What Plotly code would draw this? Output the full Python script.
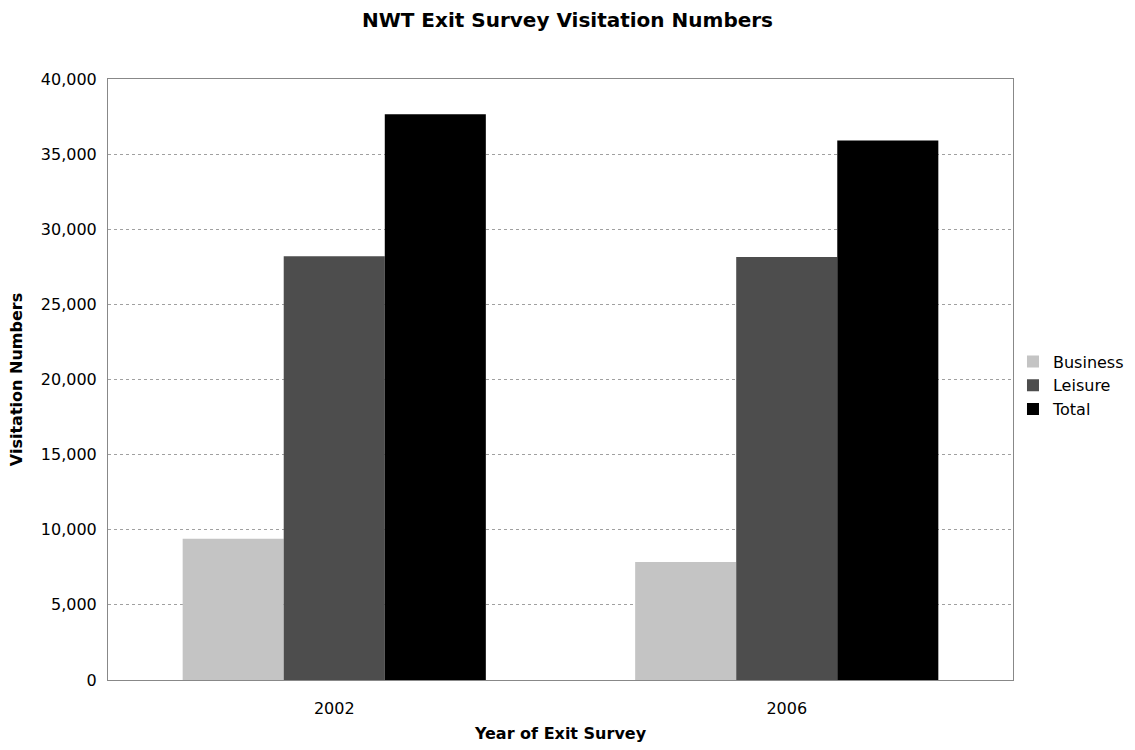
import plotly.graph_objs as go

# data
years = ['2002', '2006']
business = [9400, 7850]
leisure = [28200, 28150]
total = [37650, 35900]

series_names = ['Business', 'Leisure', 'Total']
series_colors = ['#c4c4c4', '#4d4d4d', '#000000']

FONT = 'DejaVu Sans'

fig = go.Figure()
for name, vals, col in zip(series_names, [business, leisure, total], series_colors):
    fig.add_trace(go.Bar(
        x=years,
        y=vals,
        name=name,
        marker=dict(color=col, line=dict(width=0)),
    ))

fig.update_layout(
    title=dict(
        text='<b>NWT Exit Survey Visitation Numbers</b>',
        x=0.5,
        xanchor='center',
        y=0.973,
        yanchor='middle',
        font=dict(family=FONT, size=20, color='black'),
    ),
    font=dict(family=FONT, size=16, color='black'),
    width=1135,
    height=750,
    margin=dict(l=108, r=122, t=79, b=70),
    paper_bgcolor='white',
    plot_bgcolor='white',
    barmode='group',
    bargap=0.33,
    bargroupgap=0,
    legend=dict(
        xref='container',
        x=0.8925,
        xanchor='left',
        y=0.49,
        yanchor='middle',
        bgcolor='rgba(0,0,0,0)',
        font=dict(family=FONT, size=16),
        itemwidth=30,
        tracegroupgap=0,
    ),
    xaxis=dict(
        title=dict(text='<b>Year of Exit Survey</b>',
                   font=dict(family=FONT, size=16), standoff=10),
        automargin=False,
        showline=True,
        linecolor='#888888',
        linewidth=1,
        mirror=True,
        ticks='',
        ticklabelstandoff=14,
        showgrid=False,
        tickfont=dict(size=16),
    ),
    yaxis=dict(
        title=dict(text='<b>Visitation Numbers</b>',
                   font=dict(family=FONT, size=16), standoff=14),
        automargin=False,
        range=[0, 40000],
        dtick=5000,
        tickformat=',',
        showline=True,
        linecolor='#888888',
        linewidth=1,
        mirror=True,
        ticks='',
        ticklabelstandoff=7,
        showgrid=True,
        gridcolor='#a0a0a0',
        griddash='dot',
        gridwidth=1,
        zeroline=False,
        tickfont=dict(size=16),
    ),
)

# drop the browser's default body margin so the figure sits at the page corner
fig.write_html(
    "out.html",
    config={'displayModeBar': False},
    post_script="document.body.style.margin='0';",
)
